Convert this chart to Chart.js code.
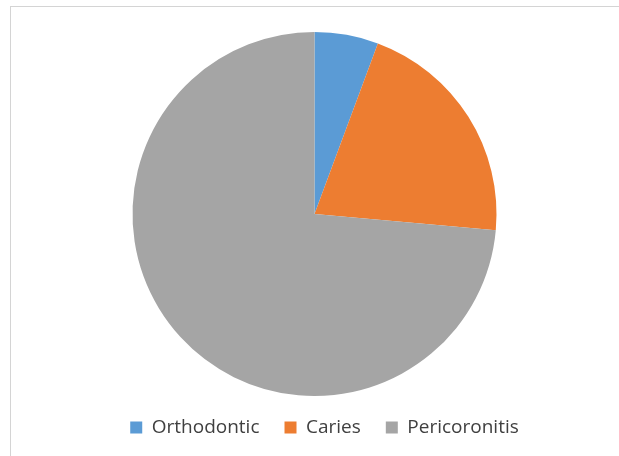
<!DOCTYPE html>
<html>
<head>
<meta charset="utf-8">
<script src="https://cdn.jsdelivr.net/npm/chart.js@4/dist/chart.umd.min.js"></script>
<style>
  html, body { margin: 0; padding: 0; background: #fff; }
  #wrap { position: absolute; left: 0; top: 0; width: 619px; height: 456px; }
  #frame { position: absolute; left: 10px; top: 6px; width: 700px; height: 500px;
           border-left: 1px solid #d4d4d4; border-top: 1px solid #d4d4d4; }
  canvas { position: absolute; left: 0; top: 0; }
</style>
</head>
<body>
<div id="wrap">
  <div id="frame"></div>
  <canvas id="canvas" width="619" height="456"></canvas>
</div>
<script>
const labels = ["Orthodontic", "Caries", "Pericoronitis"];
const values = [3, 11, 39];
const colors = ["#5B9BD5", "#ED7D31", "#A5A5A5"];

const canvas = document.getElementById("canvas");
const ctx = canvas.getContext("2d");

// legend in the original sits a bit right of the pie centre
const legendShift = {
  id: "legendShift",
  afterLayout(chart) {
    chart.legend.left += 10;
    chart.legend.right += 10;
  },
};

const chart = new Chart(ctx, {
  type: "pie",
  data: {
    labels: labels,
    datasets: [
      {
        data: values,
        backgroundColor: colors,
        borderWidth: 0,
      },
    ],
  },
  options: {
    responsive: false,
    animation: false,
    radius: 182,
    layout: {
      padding: { top: 35, left: 10, right: 0, bottom: 9 },
    },
    plugins: {
      tooltip: { enabled: false },
      legend: {
        position: "bottom",
        labels: {
          boxWidth: 12,
          boxHeight: 12,
          padding: 25,
          color: "#404040",
          font: { family: "Open Sans", size: 19 },
        },
      },
    },
  },
  plugins: [legendShift],
});
</script>
</body>
</html>
